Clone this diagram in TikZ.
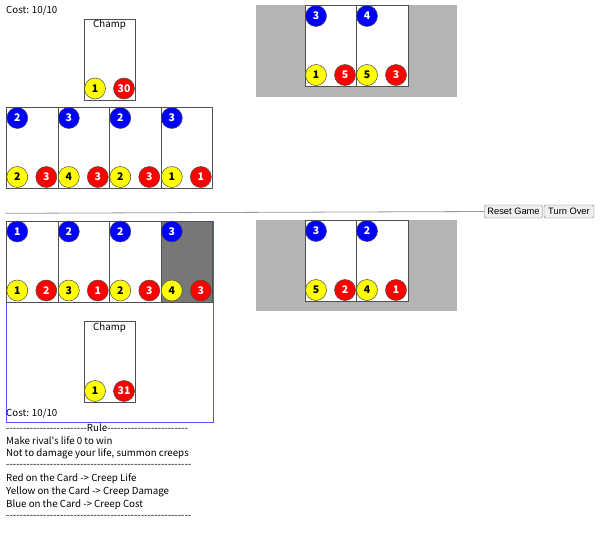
\documentclass[tikz,border=0pt]{standalone}
\usepackage{fontspec}
\newfontfamily\uifont{Noto Sans CJK KR}
\newfontfamily\btnfont{Liberation Sans}
\definecolor{cblue}{HTML}{0000FF}
\definecolor{cred}{HTML}{FF0000}
\definecolor{cyel}{HTML}{FFFF00}
\definecolor{areagrey}{HTML}{B4B4B4}
\definecolor{darkcard}{HTML}{777777}
\definecolor{cardline}{HTML}{505050}
\definecolor{zoneblue}{HTML}{5555FF}
\definecolor{btnfill}{HTML}{EFEFEF}
\definecolor{btnline}{HTML}{767676}
\tikzset{
  cardbox/.style={draw=cardline, line width=0.9pt, fill=white, minimum width=51.5pt, minimum height=81pt, inner sep=0pt, anchor=north west},
  dot/.style={circle, draw=black!70, line width=0.5pt, minimum size=21pt, inner sep=0pt, font=\uifont\fontsize{10.5}{12}\selectfont\bfseries},
  costdot/.style={dot, fill=cblue, text=white},
  dmgdot/.style={dot, fill=cyel, text=black},
  lifedot/.style={dot, fill=cred, text=white},
  txt/.style={anchor=west, inner sep=0pt, font=\uifont\fontsize{9.7}{12}\selectfont},
  btn/.style={draw=btnline, fill=btnfill, rounded corners=2pt, inner sep=0pt, minimum height=13pt, font=\btnfont\fontsize{9.3}{11}\selectfont},
}
\newcommand{\creepcard}[7]{%
  \node[cardbox, fill=#7] (#1) at (#2,#3) {};
  \node[costdot] (#1c) at (#2+11,#3+11) {#4};
  \node[dmgdot] (#1d) at (#2+11,#3+70) {#5};
  \node[lifedot] (#1l) at (#2+40,#3+70) {#6};
}
\newcommand{\champcard}[5]{%
  \node[cardbox, minimum width=51pt] (#1) at (#2,#3) {};
  \node[anchor=north, inner sep=0pt, font=\uifont\fontsize{9.7}{12}\selectfont] (#1t) at (#2+25.5,#3+1.5) {Champ};
  \node[dmgdot] (#1d) at (#2+11,#3+70) {#4};
  \node[lifedot] (#1l) at (#2+40,#3+70) {#5};
}
\begin{document}
\begin{tikzpicture}[x=1pt,y=-1pt]
\useasboundingbox[fill=white] (0,0) rectangle (600,546);
% rival side
\node[txt] (rcost) at (6,11) {Cost: 10/10};
\champcard{rchamp}{84}{18.5}{1}{30}
\creepcard{rh1}{6.3}{107}{2}{2}{3}{white}
\creepcard{rh2}{57.8}{107}{3}{4}{3}{white}
\creepcard{rh3}{109.3}{107}{2}{2}{3}{white}
\creepcard{rh4}{160.8}{107}{3}{1}{1}{white}
\node[fill=areagrey, anchor=north west, minimum width=201pt, minimum height=92pt, inner sep=0pt] (rfield) at (256,4.5) {};
\creepcard{rf1}{305}{5}{3}{1}{5}{white}
\creepcard{rf2}{356}{5}{4}{5}{3}{white}
% divider and buttons
\node[btn, minimum width=58pt] (reset) at (513.5,211.5) {Reset Game};
\node[btn, minimum width=50pt] (turn) at (569,211.5) {Turn Over};
\coordinate (divl) at (5,213.3);
\draw[draw=black!40, line width=0.8pt] (divl) -- (reset.west);
% player side
\node[draw=zoneblue, line width=0.8pt, anchor=north west, minimum width=207pt, minimum height=201pt, inner sep=0pt] (zone) at (5.5,220.5) {};
\node[fill=areagrey, anchor=north west, minimum width=201pt, minimum height=91pt, inner sep=0pt] (pfield) at (256,220) {};
\creepcard{pf1}{305}{220}{3}{5}{2}{white}
\creepcard{pf2}{356}{220}{2}{4}{1}{white}
\creepcard{ph1}{6.3}{220.5}{1}{1}{2}{white}
\creepcard{ph2}{57.8}{220.5}{2}{3}{1}{white}
\creepcard{ph3}{109.3}{220.5}{2}{2}{3}{white}
\creepcard{ph4}{160.8}{220.5}{3}{4}{3}{darkcard}
\champcard{pchamp}{84}{321}{1}{31}
\node[txt] (pcost) at (6,414) {Cost: 10/10};
% rules
\node[txt] (r1) at (6,427.7) {------------------------Rule------------------------};
\node[txt] (r2) at (6,440.7) {Make rival's life 0 to win};
\node[txt] (r3) at (6,454) {Not to damage your life, summon creeps};
\node[txt] (r4) at (6,465.7) {-------------------------------------------------------};
\node[txt] (r5) at (6,479) {Red on the Card -> Creep Life};
\node[txt] (r6) at (6,492) {Yellow on the Card -> Creep Damage};
\node[txt] (r7) at (6,504.7) {Blue on the Card -> Creep Cost};
\node[txt] (r8) at (6,516.7) {-------------------------------------------------------};
\end{tikzpicture}
\end{document}
